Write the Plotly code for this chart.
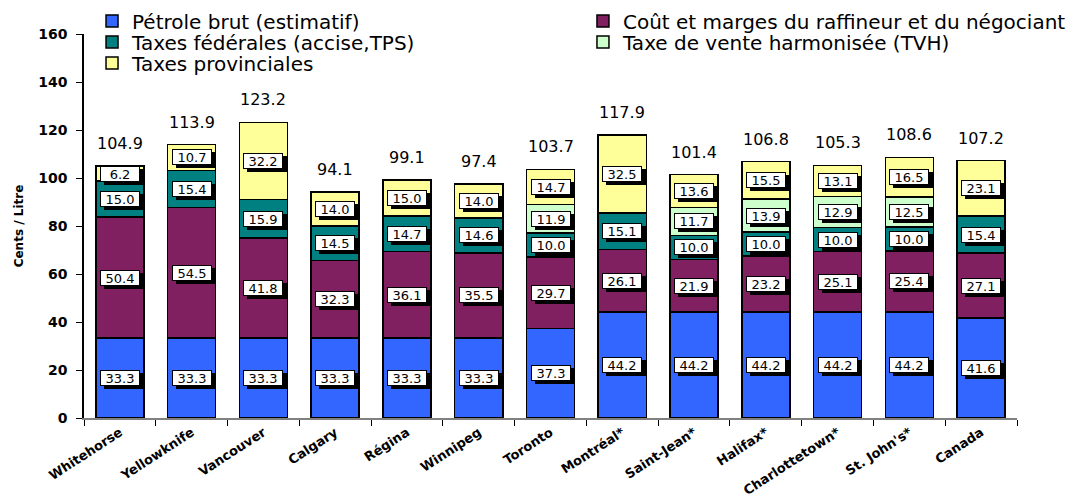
import plotly.graph_objects as go

cities = ["Whitehorse", "Yellowknife", "Vancouver", "Calgary", "Régina", "Winnipeg",
          "Toronto", "Montréal*", "Saint-Jean*", "Halifax*", "Charlottetown*",
          "St. John's*", "Canada"]

petrole = [33.3, 33.3, 33.3, 33.3, 33.3, 33.3, 37.3, 44.2, 44.2, 44.2, 44.2, 44.2, 41.6]
marges = [50.4, 54.5, 41.8, 32.3, 36.1, 35.5, 29.7, 26.1, 21.9, 23.2, 25.1, 25.4, 27.1]
federales = [15.0, 15.4, 15.9, 14.5, 14.7, 14.6, 10.0, 15.1, 10.0, 10.0, 10.0, 10.0, 15.4]
tvh = [0, 0, 0, 0, 0, 0, 11.9, 0, 11.7, 13.9, 12.9, 12.5, 0]
provinciales = [6.2, 10.7, 32.2, 14.0, 15.0, 14.0, 14.7, 32.5, 13.6, 15.5, 13.1, 16.5, 23.1]
totaux = [104.9, 113.9, 123.2, 94.1, 99.1, 97.4, 103.7, 117.9, 101.4, 106.8, 105.3, 108.6, 107.2]

series_names = ["Pétrole brut (estimatif)",
                "Coût et marges du raffineur et du négociant",
                "Taxes fédérales (accise,TPS)",
                "Taxe de vente harmonisée (TVH)",
                "Taxes provinciales"]
series_values = [petrole, marges, federales, tvh, provinciales]
colors = ["#3366FF", "#802060", "#008080", "#CCFFCC", "#FFFF99"]

# legend grid: (column x in paper units, row y centre in paper units)
legend_ids = ["legend", "legend2", "legend3", "legend4", "legend5"]
legend_x = [0.0086, 0.5348, 0.0086, 0.5348, 0.0086]
legend_y = [1.034, 1.034, 0.979, 0.979, 0.9245]

FONT = "DejaVu Sans"

fig = go.Figure()
for name, vals, col, lid in zip(series_names, series_values, colors, legend_ids):
    fig.add_trace(go.Bar(
        x=cities, y=[v if v else None for v in vals], name=name, legend=lid,
        marker=dict(color=col, line=dict(color="black", width=1.5)),
        hoverinfo="skip",
    ))

annotations = []
for i, city in enumerate(cities):
    base = 0.0
    for vals in series_values:
        v = vals[i]
        if v:
            mid = base + v / 2.0
            txt = f"{v:.1f}"
            annotations.append(dict(
                x=city, y=mid, xref="x", yref="y", text=txt, showarrow=False,
                font=dict(family=FONT, size=13, color="black"),
                bgcolor="black", bordercolor="black", borderwidth=1, borderpad=0,
                width=38, height=14, xshift=4, yshift=-3))
            annotations.append(dict(
                x=city, y=mid, xref="x", yref="y", text=txt, showarrow=False,
                font=dict(family=FONT, size=13, color="black"),
                bgcolor="white", bordercolor="black", borderwidth=1, borderpad=0,
                width=38, height=14))
            base += v
    annotations.append(dict(
        x=city, y=totaux[i], xref="x", yref="y", text=f"{totaux[i]:.1f}",
        showarrow=False, yanchor="bottom", yshift=11,
        font=dict(family=FONT, size=16, color="black")))

layout_legends = {}
for lid, lx, ly in zip(legend_ids, legend_x, legend_y):
    layout_legends[lid] = dict(
        orientation="h", x=lx, xanchor="left", y=ly, yanchor="middle",
        itemwidth=30, bgcolor="rgba(0,0,0,0)",
        font=dict(family=FONT, size=20, color="black"),
    )

fig.update_layout(
    width=1088, height=494,
    margin=dict(l=84, r=71, t=34, b=76, autoexpand=False),
    paper_bgcolor="white", plot_bgcolor="white",
    barmode="stack", bargap=0.33,
    font=dict(family=FONT, color="black"),
    showlegend=True,
    annotations=annotations,
    xaxis=dict(
        showline=True, linecolor="#808080", linewidth=2,
        ticks="outside", tickson="boundaries", ticklen=6, tickcolor="black",
        tickangle=-33, tickfont=dict(family=FONT, size=13, weight="bold"),
        showgrid=False, zeroline=False, range=[-0.5, 12.5],
    ),
    yaxis=dict(
        range=[0, 160], dtick=20, tick0=0,
        showline=True, linecolor="black", linewidth=1.5,
        ticks="outside", ticklen=6, tickcolor="black",
        tickfont=dict(family=FONT, size=14, weight="bold"),
        showgrid=False, zeroline=False, ticklabelstandoff=6,
        title=dict(text="Cents / Litre", font=dict(family=FONT, size=12, weight="bold"),
                   standoff=12),
    ),
    **layout_legends,
)

fig.write_html("out.html", config={"displayModeBar": False},
               post_script="document.body.style.margin='0px';")
